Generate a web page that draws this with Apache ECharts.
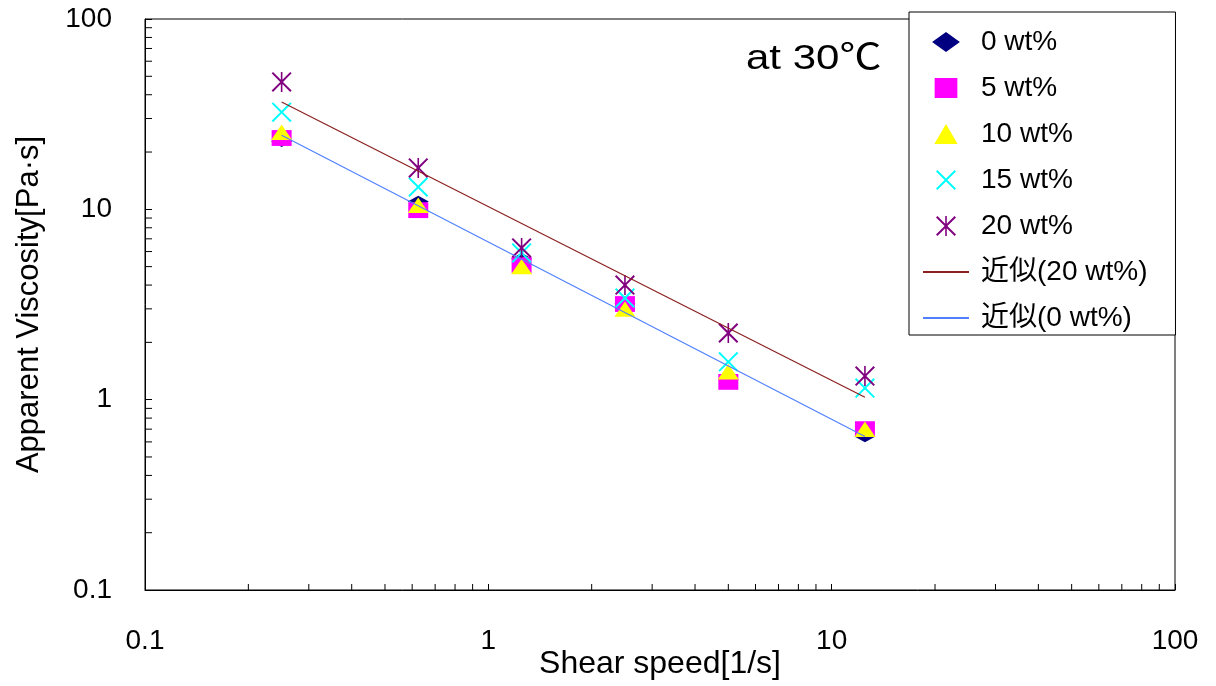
<!DOCTYPE html>
<html>
<head>
<meta charset="utf-8">
<script src="https://cdn.jsdelivr.net/npm/echarts@6/dist/echarts.min.js"></script>
<style>
html,body{margin:0;padding:0;background:#fff;}
#chart{width:1216px;height:686px;}
</style>
</head>
<body>
<div id="chart"></div>
<script>
// ---- data ----
const shearSpeed = [0.25, 0.625, 1.25, 2.5, 5, 12.5];
const visc0  = [22.8, 11.0, 5.5, 3.2, 1.28, 0.64];
const visc5  = [23.7, 9.9, 5.1, 3.18, 1.24, 0.70];
const visc10 = [25.4, 10.5, 5.0, 2.99, 1.40, 0.70];
const visc15 = [32.4, 13.1, 5.9, 3.42, 1.58, 1.15];
const visc20 = [46.7, 16.5, 6.27, 4.0, 2.24, 1.33];
const fit20X = [0.25, 12.5];
const fit20Y = [36.6, 1.03];
const fit0X  = [0.25, 12.5];
const fit0Y  = [24.5, 0.64];
const seriesNames = ['0 wt%', '5 wt%', '10 wt%', '15 wt%', '20 wt%', '近似(20 wt%)', '近似(0 wt%)'];
const xTickLabels = ['0.1', '1', '10', '100'];
const yTickLabels = ['0.1', '1', '10', '100'];
const minorTicks = [0.2,0.3,0.4,0.5,0.6,0.7,0.8,0.9, 2,3,4,5,6,7,8,9, 20,30,40,50,60,70,80,90];
const titleText = 'at 30℃';
const xName = 'Shear speed[1/s]';
const yName = 'Apparent Viscosity[Pa·s]';

const FONT = "'Liberation Sans', Arial, 'Noto Sans CJK JP', sans-serif";
const pair = (xs, ys) => xs.map((x, i) => [x, ys[i]]);

const diamondPath = 'path://M50,0 L100,36 L50,72 L0,36 Z';
const squarePath = 'path://M0,0 L100,0 L100,88 L0,88 Z';
const trianglePath = 'path://M50,0 L100,86 L0,86 Z';
const crossPath = 'path://M0,7 L7,0 L50,43 L93,0 L100,7 L57,50 L100,93 L93,100 L50,57 L7,100 L0,93 L43,50 Z';
const starPath = 'path://M0,7 L7,0 L50,43 L93,0 L100,7 L57,50 L100,93 L93,100 L50,57 L7,100 L0,93 L43,50 Z M46,0 L54,0 L54,100 L46,100 Z';

const chart = echarts.init(document.getElementById('chart'), null, {renderer: 'canvas'});

function minorTickSeries(isX) {
  return {
    type: 'custom',
    silent: true,
    clip: false,
    z: 5,
    data: minorTicks.map(v => isX ? [v, 0.1] : [0.1, v]),
    renderItem: function (params, api) {
      const p = api.coord([api.value(0), api.value(1)]);
      const shape = isX
        ? {x1: p[0], y1: p[1], x2: p[0], y2: p[1] - 6}
        : {x1: p[0], y1: p[1], x2: p[0] + 7, y2: p[1]};
      return {type: 'line', shape: shape, style: {stroke: '#000', lineWidth: 1}};
    }
  };
}

const legendData = seriesNames.map((n, i) => i >= 5 ? {name: n, itemStyle: {opacity: 0}} : {name: n});

const option = {
  backgroundColor: '#fff',
  animation: false,
  textStyle: {fontFamily: FONT},
  graphic: [{
    type: 'text',
    x: 746,
    y: 42,
    scaleX: 1.2,
    style: {text: titleText, font: "35px " + FONT, fill: '#000'}
  }],
  grid: {
    left: 145, right: 41, top: 19, bottom: 96,
    containLabel: false,
    outerBoundsMode: 'none',
    show: true, borderColor: '#000', borderWidth: 1, backgroundColor: '#fff'
  },
  legend: {
    left: 909, top: 12,
    orient: 'vertical',
    data: legendData,
    itemWidth: 46, itemHeight: 20, itemGap: 18,
    padding: [16, 28, 3, 13],
    backgroundColor: '#fff',
    borderColor: '#000', borderWidth: 1,
    symbolKeepAspect: true,
    textStyle: {fontSize: 28, color: '#000', fontFamily: FONT, lineHeight: 28, padding: [0, 0, 0, 7]},
    z: 10
  },
  xAxis: {
    type: 'log', logBase: 10, min: 0.1, max: 100,
    name: xName, nameLocation: 'middle', nameGap: 58, nameMoveOverlap: false,
    nameTextStyle: {fontSize: 32, color: '#000', fontFamily: FONT},
    axisLine: {show: true, lineStyle: {color: '#000', width: 1}},
    axisTick: {show: true, inside: true, length: 6, lineStyle: {color: '#000'}},
    axisLabel: {
      fontSize: 28, color: '#000', margin: 37,
      formatter: function (v) {
        const i = Math.round(Math.log10(v)) + 1;
        return xTickLabels[i] !== undefined ? xTickLabels[i] : '';
      }
    },
    splitLine: {show: false}
  },
  yAxis: {
    type: 'log', logBase: 10, min: 0.1, max: 100,
    name: yName, nameLocation: 'middle', nameGap: 100, nameRotate: 90, nameMoveOverlap: false,
    nameTextStyle: {fontSize: 31, color: '#000', fontFamily: FONT},
    axisLine: {show: true, lineStyle: {color: '#000', width: 1}},
    axisTick: {show: true, inside: true, length: 7, lineStyle: {color: '#000'}},
    axisLabel: {
      fontSize: 28, color: '#000', margin: 33,
      formatter: function (v) {
        const i = Math.round(Math.log10(v)) + 1;
        return yTickLabels[i] !== undefined ? yTickLabels[i] : '';
      }
    },
    splitLine: {show: false}
  },
  series: [
    {name: seriesNames[0], type: 'scatter', data: pair(shearSpeed, visc0), symbol: diamondPath, symbolSize: [21, 16], symbolKeepAspect: true, itemStyle: {color: '#000080', opacity: 1}, z: 2},
    {name: seriesNames[1], type: 'scatter', data: pair(shearSpeed, visc5), symbol: squarePath, symbolSize: [20, 18], symbolKeepAspect: true, itemStyle: {color: '#ff00ff', opacity: 1}, z: 2},
    {name: seriesNames[2], type: 'scatter', data: pair(shearSpeed, visc10), symbol: trianglePath, symbolSize: [21, 18], symbolKeepAspect: true, itemStyle: {color: '#ffff00', opacity: 1}, z: 2},
    {name: seriesNames[3], type: 'scatter', data: pair(shearSpeed, visc15), symbol: crossPath, symbolSize: 20, symbolKeepAspect: true, itemStyle: {color: '#00ffff', opacity: 1}, z: 2},
    {name: seriesNames[4], type: 'scatter', data: pair(shearSpeed, visc20), symbol: starPath, symbolSize: 20, symbolKeepAspect: true, itemStyle: {color: '#800080', opacity: 1}, z: 2},
    {name: seriesNames[5], type: 'line', data: pair(fit20X, fit20Y), symbol: 'none', showSymbol: false, lineStyle: {color: '#8b2020', width: 1.2}, itemStyle: {color: '#8b2020'}, z: 3},
    {name: seriesNames[6], type: 'line', data: pair(fit0X, fit0Y), symbol: 'none', showSymbol: false, lineStyle: {color: '#5080ff', width: 1.2}, itemStyle: {color: '#5080ff'}, z: 3},
    minorTickSeries(true),
    minorTickSeries(false)
  ]
};
chart.setOption(option);
</script>
</body>
</html>
